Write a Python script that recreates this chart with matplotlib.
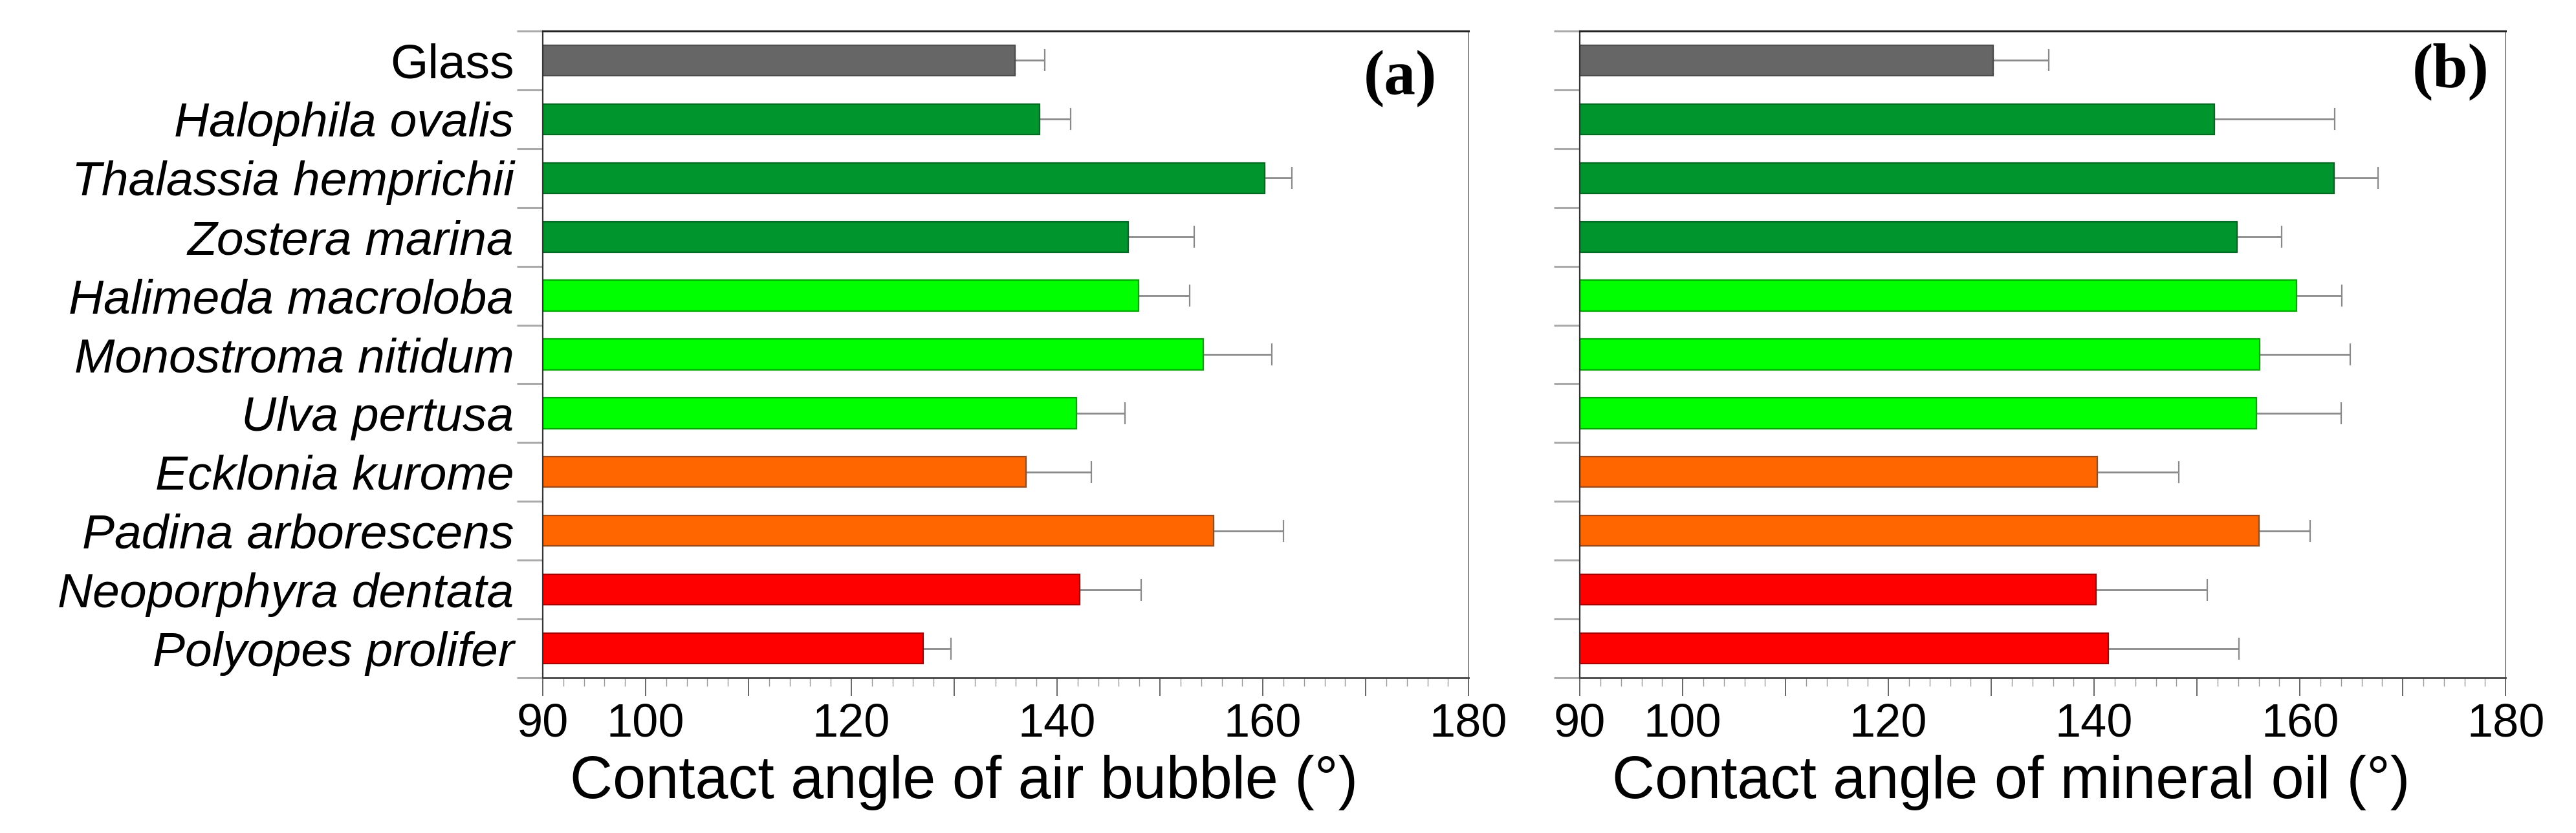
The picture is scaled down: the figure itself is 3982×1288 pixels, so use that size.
import matplotlib
matplotlib.use('Agg')
import matplotlib.pyplot as plt
from matplotlib.ticker import MultipleLocator, FixedLocator
import numpy as np

plt.rcParams['font.family'] = ['Liberation Sans', 'DejaVu Sans']

cats = ['Glass', 'Halophila ovalis', 'Thalassia hemprichii', 'Zostera marina',
        'Halimeda macroloba', 'Monostroma nitidum', 'Ulva pertusa',
        'Ecklonia kurome', 'Padina arborescens', 'Neoporphyra dentata',
        'Polyopes prolifer']
groups = ['glass', 'seagrass', 'seagrass', 'seagrass', 'green', 'green',
          'green', 'brown', 'brown', 'red', 'red']

air = [135.9, 138.3, 160.2, 146.9, 147.9, 154.2, 141.9, 137.0, 155.2, 142.2, 127.0]
air_err = [2.9, 3.0, 2.6, 6.4, 5.0, 6.7, 4.7, 6.3, 6.8, 6.0, 2.7]
oil = [130.2, 151.7, 163.3, 153.9, 159.7, 156.1, 155.8, 140.3, 156.0, 140.2, 141.4]
oil_err = [5.4, 11.7, 4.3, 4.3, 4.4, 8.8, 8.2, 7.9, 5.0, 10.8, 12.7]

face = {'glass': '#666666', 'seagrass': '#00962d', 'green': '#00ff00',
        'brown': '#ff6600', 'red': '#ff0000'}
edge = {'glass': '#4d4d4d', 'seagrass': '#006a20', 'green': '#00a800',
        'brown': '#9a4a1a', 'red': '#a80000'}

fig = plt.figure(figsize=(39.82, 12.88), dpi=100)
ax_a = fig.add_axes([0.2107, 0.1863, 0.3594, 0.7764])
ax_b = fig.add_axes([0.6133, 0.1863, 0.3594, 0.7764])

# axis, values, errors, x label, label x-centre, panel tag, tag position
panels = [(ax_a, air, air_err, 'Contact angle of air bubble (\u00b0)', 0.455, '(a)', 0.966, 0.926),
          (ax_b, oil, oil_err, 'Contact angle of mineral oil (\u00b0)', 0.466, '(b)', 0.982, 0.937)]

y = np.arange(len(cats))
for ax, vals, errs, xlabel, lx, tag, tx, ty in panels:
    left = 90
    ax.barh(y, np.array(vals) - left, left=left, height=0.52,
            color=[face[g] for g in groups], edgecolor=[edge[g] for g in groups],
            linewidth=1.6, zorder=2)
    ax.errorbar(vals, y, xerr=[np.zeros(len(errs)), errs], fmt='none',
                ecolor='#8a8a8a', elinewidth=2.0, capsize=12, capthick=1.6, zorder=1)
    ax.set_xlim(90, 180)
    ax.set_ylim(len(cats) - 0.5, -0.5)

    ax.xaxis.set_major_locator(FixedLocator([90, 100, 110, 120, 130, 140, 150, 160, 170, 180]))
    ax.xaxis.set_minor_locator(MultipleLocator(2))
    ax.set_xticklabels(['90', '100', '', '120', '', '140', '', '160', '', '180'])
    ax.tick_params(axis='x', which='major', direction='out', length=20, width=1.4,
                   color='#666666', labelsize=52, pad=8)
    ax.tick_params(axis='x', which='minor', direction='out', length=9.5, width=1.0,
                   color='#999999')

    ax.set_yticks(y)
    ax.yaxis.set_minor_locator(FixedLocator(np.arange(-0.5, len(cats), 1.0)))
    ax.tick_params(axis='y', which='major', length=0, pad=32, labelsize=54)
    ax.tick_params(axis='y', which='minor', direction='out', length=29, width=2.2,
                   color='#aaaaaa')

    ax.set_xlabel(xlabel, fontsize=66)
    ax.xaxis.set_label_coords(lx, -0.119)

    ax.spines['top'].set_color('#222222')
    ax.spines['top'].set_linewidth(2.2)
    ax.spines['left'].set_color('#333333')
    ax.spines['left'].set_linewidth(1.6)
    ax.spines['bottom'].set_color('#444444')
    ax.spines['bottom'].set_linewidth(2.0)
    ax.spines['right'].set_color('#888888')
    ax.spines['right'].set_linewidth(1.4)

    ax.text(tx, ty, tag, transform=ax.transAxes, ha='right', va='center',
            fontsize=70, fontweight='bold', family='Liberation Serif')

ax_a.set_yticklabels(cats)
for i, lab in enumerate(ax_a.get_yticklabels()):
    if i > 0:
        lab.set_fontstyle('italic')
ax_b.set_yticklabels([])

fig.savefig('out.png', dpi=100)
